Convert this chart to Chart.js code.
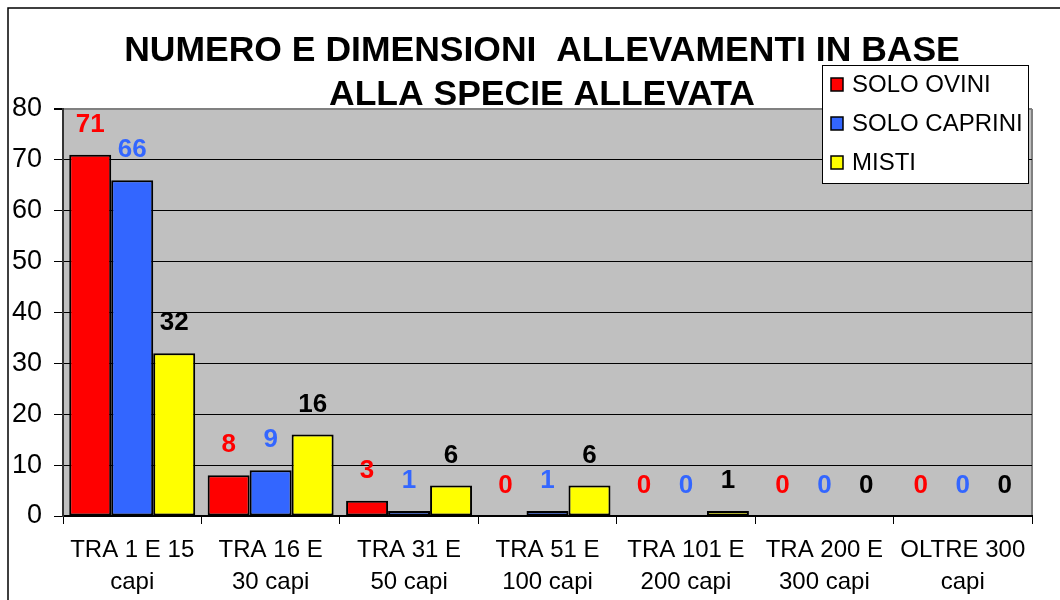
<!DOCTYPE html>
<html>
<head>
<meta charset="utf-8">
<script src="https://cdn.jsdelivr.net/npm/chart.js@4/dist/chart.umd.min.js"></script>
<style>
  html, body { margin: 0; padding: 0; background: #fff; }
  #wrap { width: 1060px; height: 600px; }
</style>
</head>
<body>
<div id="wrap"><canvas id="myChart" width="1060" height="600"></canvas></div>
<script>
// Dati del grafico
const categorie = [
    ['TRA 1 E 15', 'capi'], ['TRA 16 E', '30 capi'], ['TRA 31 E', '50 capi'],
    ['TRA 51 E', '100 capi'], ['TRA 101 E', '200 capi'], ['TRA 200 E', '300 capi'],
    ['OLTRE 300', 'capi']
];
const soloOvini = [71, 8, 3, 0, 0, 0, 0];
const soloCaprini = [66, 9, 1, 1, 0, 0, 0];
const misti = [32, 16, 6, 6, 1, 0, 0];
const titolo = ['NUMERO E DIMENSIONI  ALLEVAMENTI IN BASE', 'ALLA SPECIE ALLEVATA'];

const FONT = '"Liberation Sans", Arial, sans-serif';

// sfondo grigio dell'area del grafico e cornice esterna
const sfondoPlugin = {
    id: 'sfondo',
    beforeDraw(chart) {
        const c = chart.ctx, a = chart.chartArea;
        c.save();
        c.fillStyle = '#fff';
        c.fillRect(0, 0, chart.width, chart.height);
        c.strokeStyle = '#000';
        c.lineWidth = 1.5;
        c.beginPath();
        c.moveTo(8, chart.height + 5);
        c.lineTo(8, 8);
        c.lineTo(chart.width + 5, 8);
        c.stroke();
        c.fillStyle = '#c0c0c0';
        c.fillRect(a.left, a.top, a.right - a.left, a.bottom - a.top);
        c.strokeStyle = '#808080';
        c.lineWidth = 2;
        c.beginPath();
        c.moveTo(a.right, a.top);
        c.lineTo(a.right, a.bottom);
        c.stroke();
        c.restore();
    }
};

// etichette sopra le barre
const etichettePlugin = {
    id: 'etichette',
    afterDatasetsDraw(chart) {
        const c = chart.ctx;
        c.save();
        c.font = 'bold 26px ' + FONT;
        c.textAlign = 'center';
        c.textBaseline = 'middle';
        chart.data.datasets.forEach((ds, i) => {
            const meta = chart.getDatasetMeta(i);
            meta.data.forEach((el, j) => {
                c.fillStyle = ds.labelColor;
                c.fillText(String(ds.data[j]), el.x, el.y - 30);
            });
        });
        c.restore();
    }
};

// titolo e legenda sopra il grafico
const titoloLegendaPlugin = {
    id: 'titoloLegenda',
    afterDraw(chart) {
        const c = chart.ctx;
        c.save();
        c.fillStyle = '#000';
        c.font = 'bold 35.5px ' + FONT;
        c.textAlign = 'center';
        c.textBaseline = 'middle';
        c.fillText(titolo[0], 542, 51);
        c.fillText(titolo[1], 542, 95);

        // legenda
        c.fillStyle = '#fff';
        c.fillRect(822, 65, 206, 118);
        c.strokeStyle = '#000';
        c.lineWidth = 1;
        c.strokeRect(822.5, 65.5, 206, 118);
        c.font = '24px ' + FONT;
        c.textAlign = 'left';
        const righe = [84, 123, 162];
        chart.data.datasets.forEach((ds, i) => {
            const y = righe[i];
            c.fillStyle = ds.backgroundColor;
            c.fillRect(831, y - 6, 12, 13);
            c.strokeStyle = '#000';
            c.lineWidth = 1.5;
            c.strokeRect(831, y - 6, 12, 13);
            c.fillStyle = '#000';
            c.fillText(ds.label, 852, y + 1);
        });
        c.restore();
    }
};

const ctx = document.getElementById('myChart').getContext('2d');
const myChart = new Chart(ctx, {
    type: 'bar',
    data: {
        labels: categorie,
        datasets: [
            { label: 'SOLO OVINI', data: soloOvini, backgroundColor: '#ff0000', labelColor: '#ff0000' },
            { label: 'SOLO CAPRINI', data: soloCaprini, backgroundColor: '#3366ff', labelColor: '#3366ff' },
            { label: 'MISTI', data: misti, backgroundColor: '#ffff00', labelColor: '#000000' }
        ]
    },
    options: {
        responsive: false,
        animation: false,
        devicePixelRatio: 1,
        layout: { padding: { top: 109, right: 28, bottom: 0, left: 0 } },
        datasets: {
            bar: {
                borderColor: '#000',
                borderWidth: 2,
                borderSkipped: false,
                categoryPercentage: 0.91,
                barPercentage: 1
            }
        },
        plugins: {
            legend: { display: false },
            title: { display: false },
            tooltip: { enabled: false }
        },
        scales: {
            x: {
                afterFit(scale) { scale.height = 84; },
                grid: {
                    display: true,
                    drawOnChartArea: false,
                    offset: true,
                    tickLength: 8,
                    color: '#000',
                    lineWidth: 1
                },
                border: { color: '#000', width: 2 },
                ticks: {
                    color: '#000',
                    padding: 10,
                    maxRotation: 0,
                    autoSkip: false,
                    font: { family: FONT, size: 24, lineHeight: 1.35 }
                }
            },
            y: {
                min: 0,
                max: 80,
                afterFit(scale) { scale.width = 63; },
                grid: {
                    color: (c) => c.tick && c.tick.value === 80 ? '#808080' : '#000',
                    lineWidth: (c) => c.tick && c.tick.value === 80 ? 2 : 1,
                    tickLength: 9,
                    tickColor: '#000'
                },
                border: { color: '#333', width: 2 },
                ticks: {
                    stepSize: 10,
                    color: '#000',
                    padding: 12,
                    font: { family: FONT, size: 27 }
                }
            }
        }
    },
    plugins: [sfondoPlugin, etichettePlugin, titoloLegendaPlugin]
});
</script>
</body>
</html>
